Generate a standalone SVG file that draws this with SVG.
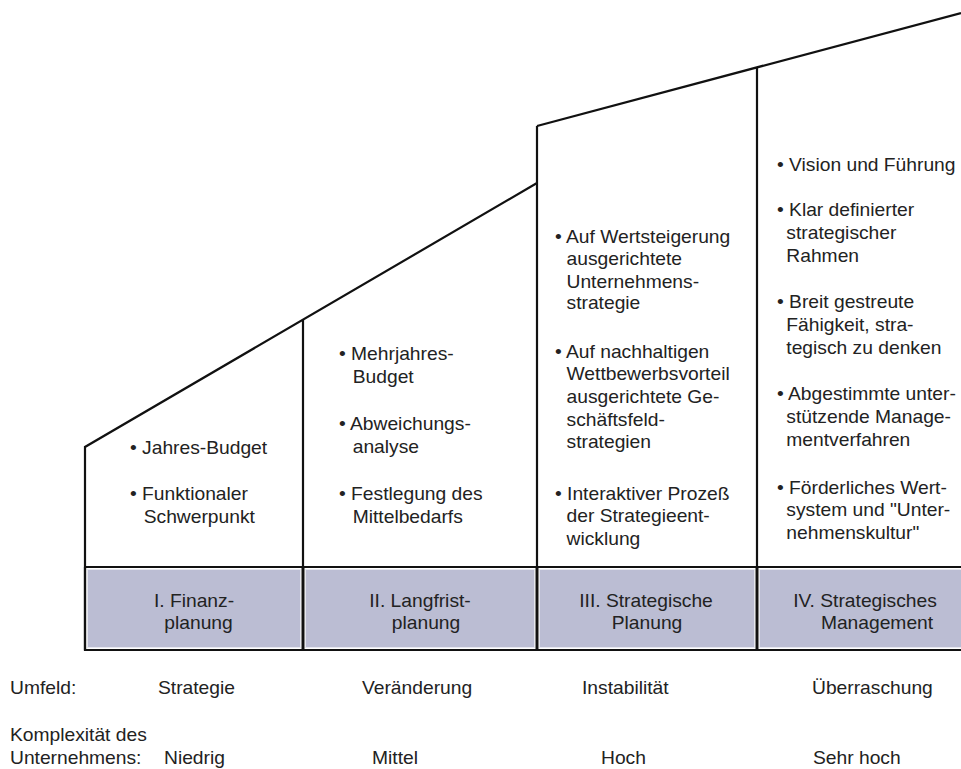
<svg xmlns="http://www.w3.org/2000/svg" width="961" height="769" viewBox="0 0 961 769">
<style>
.t{font-family:"Liberation Sans",Arial,sans-serif;font-size:17.5px;fill:#222}
.c{text-anchor:middle}
.ln{stroke:#111;stroke-width:2.2;fill:none;stroke-linejoin:miter}
.dv{stroke:#111;stroke-width:3;fill:none}
.cell{fill:#bbbdd3;stroke:#e6e7ef;stroke-width:1}
</style>
<rect width="961" height="769" fill="#fff"/>
<g id="connectors">
<path class="ln" d="M85,650 L85,447 L537,183"/>
<path class="ln" d="M537,126 L961,13"/>
<path class="ln" d="M303,320 L303,567"/>
<path class="ln" d="M537,126 L537,567"/>
<path class="ln" d="M757,67.4 L757,567"/>
<path class="ln" d="M85,567 L961,567"/>
</g>
<g id="col1">
<rect class="cell" x="87.5" y="569.5" width="213" height="78"/>
<text class="t" transform="translate(130,454) scale(1.1,1)"><tspan x="0" y="0">• Jahres-Budget</tspan><tspan x="0" y="46">• Funktionaler</tspan><tspan x="12.5" y="69">Schwerpunkt</tspan></text>
<text class="t c" transform="translate(194,607) scale(1.1,1)">I. Finanz-</text>
<text class="t c" transform="translate(198.5,629) scale(1.1,1)">planung</text>
</g>
<g id="col2">
<rect class="cell" x="305.5" y="569.5" width="229" height="78"/>
<text class="t" transform="translate(339,360) scale(1.1,1)"><tspan x="0" y="0">• Mehrjahres-</tspan><tspan x="12.5" y="23">Budget</tspan><tspan x="0" y="70">• Abweichungs-</tspan><tspan x="12.5" y="93">analyse</tspan><tspan x="0" y="140">• Festlegung des</tspan><tspan x="12.5" y="163">Mittelbedarfs</tspan></text>
<text class="t c" transform="translate(420,607) scale(1.1,1)">II. Langfrist-</text>
<text class="t c" transform="translate(426,629) scale(1.1,1)">planung</text>
</g>
<g id="col3">
<rect class="cell" x="539.5" y="569.5" width="215" height="78"/>
<text class="t" transform="translate(555,243) scale(1.1,1)"><tspan x="0" y="0">• Auf Wertsteigerung</tspan><tspan x="10.5" y="22">ausgerichtete</tspan><tspan x="10.5" y="45">Unternehmens-</tspan><tspan x="10.5" y="66">strategie</tspan><tspan x="0" y="115">• Auf nachhaltigen</tspan><tspan x="10.5" y="137">Wettbewerbsvorteil</tspan><tspan x="10.5" y="160">ausgerichtete Ge-</tspan><tspan x="10.5" y="183">schäftsfeld-</tspan><tspan x="10.5" y="205">strategien</tspan><tspan x="0" y="257">• Interaktiver Prozeß</tspan><tspan x="10.5" y="279">der Strategieent-</tspan><tspan x="10.5" y="302">wicklung</tspan></text>
<text class="t c" transform="translate(646,607) scale(1.1,1)">III. Strategische</text>
<text class="t c" transform="translate(647,629) scale(1.1,1)">Planung</text>
</g>
<g id="col4">
<rect class="cell" x="759.5" y="569.5" width="203" height="78"/>
<text class="t" transform="translate(777,171) scale(1.1,1)"><tspan x="0" y="0">• Vision und Führung</tspan><tspan x="0" y="45">• Klar definierter</tspan><tspan x="8.5" y="68">strategischer</tspan><tspan x="8.5" y="91">Rahmen</tspan><tspan x="0" y="137">• Breit gestreute</tspan><tspan x="8.5" y="160">Fähigkeit, stra-</tspan><tspan x="8.5" y="183">tegisch zu denken</tspan><tspan x="0" y="229">• Abgestimmte unter-</tspan><tspan x="8.5" y="252">stützende Manage-</tspan><tspan x="8.5" y="275">mentverfahren</tspan><tspan x="0" y="323">• Förderliches Wert-</tspan><tspan x="8.5" y="345">system und "Unter-</tspan><tspan x="8.5" y="368">nehmenskultur"</tspan></text>
<text class="t c" transform="translate(865,607) scale(1.1,1)">IV. Strategisches</text>
<text class="t c" transform="translate(877,629) scale(1.1,1)">Management</text>
</g>
<g id="frame">
<path class="dv" d="M303,567 L303,650 M537,567 L537,650 M757,567 L757,650"/>
<path class="ln" d="M85,567 L85,650 L961,650"/>
</g>
<g id="legend">
<text class="t" transform="translate(10,694) scale(1.1,1)">Umfeld:</text>
<text class="t" transform="translate(158,694) scale(1.1,1)">Strategie</text>
<text class="t" transform="translate(362,694) scale(1.1,1)">Veränderung</text>
<text class="t" transform="translate(582,694) scale(1.1,1)">Instabilität</text>
<text class="t" transform="translate(812,694) scale(1.1,1)">Überraschung</text>
<text class="t" transform="translate(10,741) scale(1.1,1)">Komplexität des</text>
<text class="t" transform="translate(10,764) scale(1.1,1)">Unternehmens:</text>
<text class="t" transform="translate(164,764) scale(1.1,1)">Niedrig</text>
<text class="t" transform="translate(372,764) scale(1.1,1)">Mittel</text>
<text class="t" transform="translate(601,764) scale(1.1,1)">Hoch</text>
<text class="t" transform="translate(813,764) scale(1.1,1)">Sehr hoch</text>
</g>
</svg>
